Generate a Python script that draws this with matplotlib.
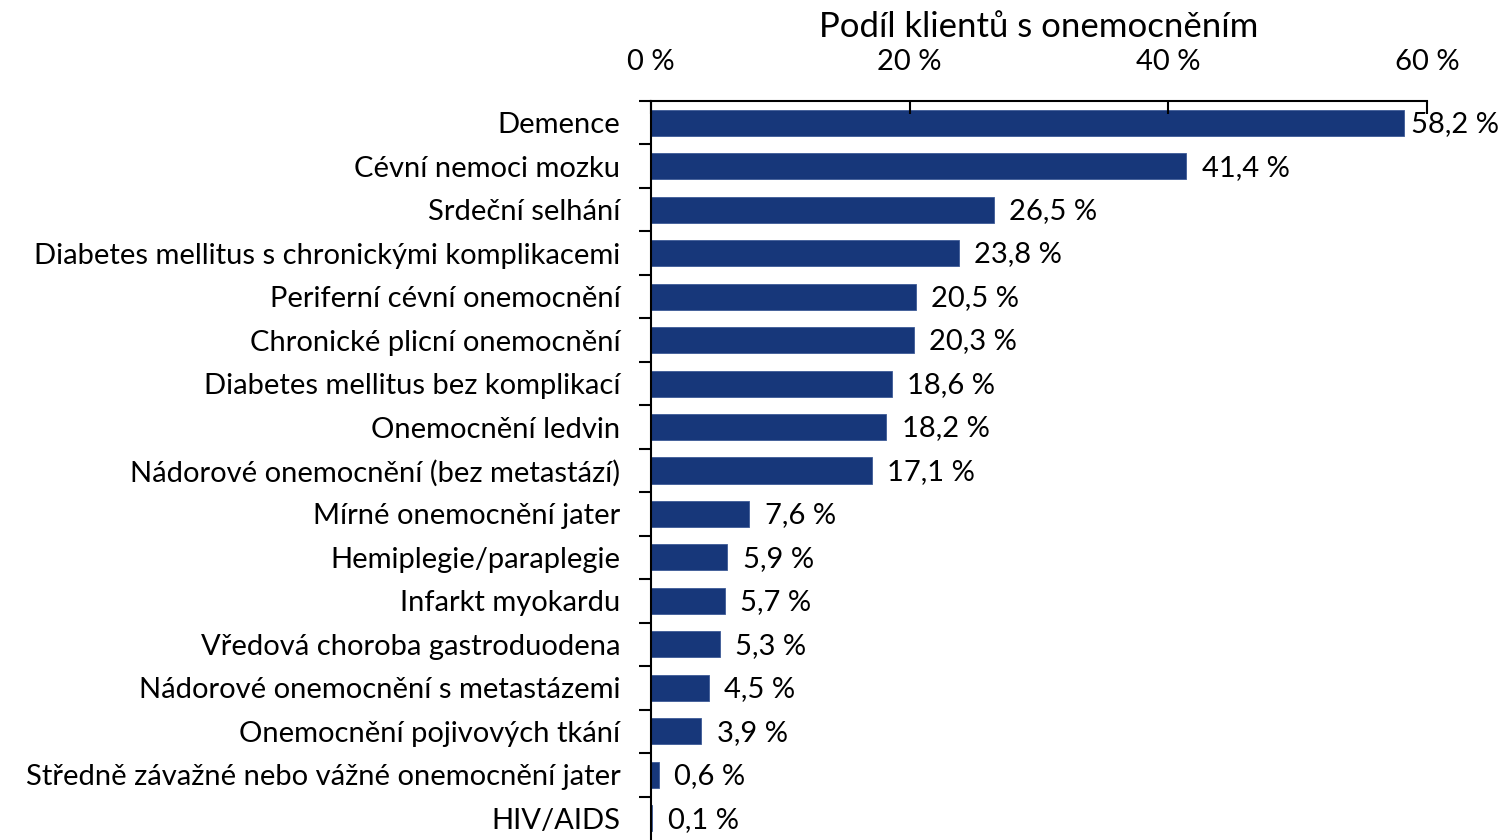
import matplotlib
matplotlib.use('Agg')
import matplotlib.pyplot as plt

categories = [
    "Demence",
    "Cévní nemoci mozku",
    "Srdeční selhání",
    "Diabetes mellitus s chronickými komplikacemi",
    "Periferní cévní onemocnění",
    "Chronické plicní onemocnění",
    "Diabetes mellitus bez komplikací",
    "Onemocnění ledvin",
    "Nádorové onemocnění (bez metastází)",
    "Mírné onemocnění jater",
    "Hemiplegie/paraplegie",
    "Infarkt myokardu",
    "Vředová choroba gastroduodena",
    "Nádorové onemocnění s metastázemi",
    "Onemocnění pojivových tkání",
    "Středně závažné nebo vážné onemocnění jater",
    "HIV/AIDS",
]
values = [58.2, 41.4, 26.5, 23.8, 20.5, 20.3, 18.6, 18.2, 17.1, 7.6, 5.9, 5.7, 5.3, 4.5, 3.9, 0.6, 0.1]
xticks = [0, 20, 40, 60]

plt.rcParams['font.family'] = ['Lato', 'DejaVu Sans']
fs = 21

fig = plt.figure(figsize=(14.99, 8.4), dpi=100)
ax = fig.add_axes([651 / 1499, 0.0, 776 / 1499, 1 - 101 / 840])

n = len(categories)
pos = list(range(n))
ax.barh(pos, values, height=0.6, color='#17377A', edgecolor='#3d5a96', linewidth=0.6)
for p, v in zip(pos, values):
    # label squeezed closer to the bar when near the axis end
    off = 5 if v > 55 else 11
    ax.annotate(("%.1f %%" % v).replace('.', ','), (v, p), xytext=(off, -1),
                textcoords='offset points', va='center', ha='left', fontsize=fs)

ax.set_ylim(n - 0.5, -0.5)
ax.set_xlim(0, 60)
ax.xaxis.tick_top()
ax.set_xticks(xticks)
ax.set_xticklabels(["%d %%" % t for t in xticks], fontsize=fs)
ax.tick_params(axis='x', direction='in', length=9, width=1.5, pad=19)

# axis title sits above the tick labels
fig.text((651 + 1427) / 2 / 1499, 1 - 27 / 840, "Podíl klientů s onemocněním",
         ha='center', va='center', fontsize=25)

ax.set_yticks(pos)
ax.set_yticklabels(categories, fontsize=fs)
ax.set_yticks([i - 0.5 for i in range(n)], minor=True)
ax.tick_params(axis='y', which='major', length=0, pad=22)
ax.tick_params(axis='y', which='minor', length=9, width=1.5, direction='out')

ax.spines['right'].set_visible(False)
ax.spines['bottom'].set_visible(False)
ax.spines['top'].set_linewidth(1.5)
ax.spines['left'].set_linewidth(1.5)

fig.savefig("out.png", dpi=100)
